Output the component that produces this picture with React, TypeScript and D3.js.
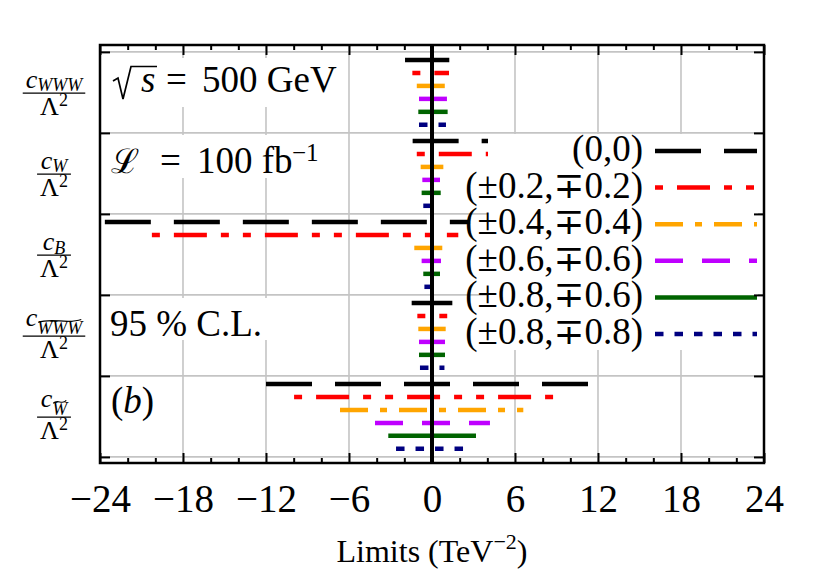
import React, { useEffect, useRef } from 'react'
import * as d3 from 'd3'

const W = 831
const H = 584
const SERIF = "'Liberation Serif', 'DejaVu Serif', serif"

// operators, top to bottom
const categories = ['WWW', 'W', 'B', 'WWW~', 'W~']
const catSubs = ['WWW', 'W', 'B', 'WWW', 'W']
const catTilde = [false, false, false, true, true]

// (c1, c2) scenarios
const seriesNames = ['(0,0)', '(±0.2,∓0.2)', '(±0.4,∓0.4)', '(±0.6,∓0.6)', '(±0.8,∓0.6)', '(±0.8,∓0.8)']
const seriesColors = ['#000000', '#ff0000', '#ffa500', '#bf00ff', '#006400', '#000080']
const seriesDashes = ['46,23', '8,14,33,14,8,14', '28,12,7,12', '28,19', 'none', '8.5,11']

// 95% C.L. lower / upper limits (TeV^-2), one row per scenario, one column per operator
const limLow = [
  [-1.95, -1.4, -23.65, -1.47, -12.0],
  [-1.42, -1.1, -20.25, -1.06, -9.97],
  [-1.1, -0.82, -1.28, -0.99, -6.65],
  [-0.94, -0.7, -0.75, -0.94, -4.12],
  [-0.99, -0.75, -0.63, -0.94, -3.16],
  [-0.94, -0.63, -0.55, -0.87, -2.6],
]
const limHigh = [
  [1.25, 4.3, 2.75, 1.47, 11.6],
  [1.23, 4.3, 1.9, 1.1, 9.02],
  [0.95, 0.82, 0.77, 0.99, 6.6],
  [1.08, 0.58, 0.65, 0.94, 4.19],
  [1.13, 0.63, 0.58, 0.94, 3.18],
  [1.01, 0.5, 0.3, 0.9, 2.27],
]

const xTicks = [-24, -18, -12, -6, 0, 6, 12, 18, 24]
const rowOffsets = [-0.4, -0.24, -0.08, 0.08, 0.24, 0.4]

export default function App() {
  const ref = useRef<SVGSVGElement | null>(null)

  useEffect(() => {
    if (!ref.current) return
    const svg = d3.select(ref.current)
    svg.selectAll('*').remove()

    const x = d3.scaleLinear().domain([-24, 24]).range([100, 764])
    const y = d3.scaleLinear().domain([-0.085, 5.075]).range([45, 463])
    const [left, right] = x.range()
    const [top, bottom] = y.range()

    svg.append('rect').attr('width', W).attr('height', H).attr('fill', '#fff')

    // grid
    const grid = svg.append('g').attr('stroke', '#c4c4c4').attr('stroke-width', 1.6)
    grid.selectAll('line.v')
      .data(xTicks.slice(1, -1))
      .join('line')
      .attr('class', 'v')
      .attr('x1', (d) => x(d)).attr('x2', (d) => x(d))
      .attr('y1', top).attr('y2', bottom)
    grid.selectAll('line.h')
      .data(d3.range(0, categories.length + 1))
      .join('line')
      .attr('class', 'h')
      .attr('x1', left).attr('x2', right)
      .attr('y1', (d) => y(d)).attr('y2', (d) => y(d))

    // limit bars
    const bars = svg.append('g')
    limLow.forEach((lows, s) => {
      bars.selectAll(null)
        .data(categories.map((c, i) => ({ i, lo: lows[i], hi: limHigh[s][i] })))
        .join('line')
        .attr('x1', (d) => x(d.lo))
        .attr('x2', (d) => x(d.hi))
        .attr('y1', (d) => y(d.i + 0.5 + rowOffsets[s]))
        .attr('y2', (d) => y(d.i + 0.5 + rowOffsets[s]))
        .attr('stroke', seriesColors[s])
        .attr('stroke-width', 4.5)
        .attr('stroke-dasharray', seriesDashes[s])
    })

    // zero line
    svg.append('line')
      .attr('x1', x(0)).attr('x2', x(0))
      .attr('y1', top).attr('y2', bottom)
      .attr('stroke', '#000').attr('stroke-width', 4)

    // annotation boxes
    const boxes = [
      [left, 58, 345, 107],
      [left, 135, 340, 178],
      [left, 298, 268, 340],
    ]
    svg.selectAll('rect.ann')
      .data(boxes)
      .join('rect')
      .attr('class', 'ann')
      .attr('x', (d) => d[0] + 1.5).attr('y', (d) => d[1])
      .attr('width', (d) => d[2] - d[0] - 1.5).attr('height', (d) => d[3] - d[1])
      .attr('fill', '#fff')

    const ann = svg.append('g').attr('font-family', SERIF).attr('font-size', 37).attr('fill', '#000')
    // sqrt(s) = 500 GeV
    ann.append('path')
      .attr('d', 'M113,81 L118,78 L123,99 L131,66.5 L157,66.5')
      .attr('fill', 'none').attr('stroke', '#000').attr('stroke-width', 1.7)
      .attr('stroke-linejoin', 'miter')
    ann.append('text').attr('x', 141).attr('y', 92).attr('font-style', 'italic').text('s')
    ann.append('text').attr('x', 166).attr('y', 92).text('=')
    ann.append('text').attr('x', 202).attr('y', 92).text('500 GeV')
    // luminosity
    ann.append('text').attr('x', 111).attr('y', 173).attr('font-family', "'DejaVu Serif', serif").attr('font-size', 34).text('\u2112')
    ann.append('text').attr('x', 160).attr('y', 173).text('=')
    ann.append('text').attr('x', 197).attr('y', 173).text('100 fb')
    ann.append('text').attr('x', 292).attr('y', 161).attr('font-size', 25).text('\u22121')
    // confidence level
    ann.append('text').attr('x', 110).attr('y', 336).text('95 % C.L.')
    // panel tag
    const tag = ann.append('text').attr('x', 111).attr('y', 413)
    tag.append('tspan').text('(')
    tag.append('tspan').attr('font-style', 'italic').text('b')
    tag.append('tspan').text(')')

    // legend
    const legTop = 134
    svg.append('rect')
      .attr('x', 488).attr('y', legTop)
      .attr('width', 758 - 488).attr('height', 350 - legTop)
      .attr('fill', '#fff')
    const leg = svg.append('g')
    const rowY = (i: number) => 151 + i * 36.6
    leg.selectAll('text')
      .data(seriesNames)
      .join('text')
      .attr('x', 643)
      .attr('y', (d, i) => rowY(i) + 10)
      .attr('text-anchor', 'end')
      .attr('font-family', SERIF)
      .attr('font-size', 37)
      .text((d) => d)
    leg.selectAll('line')
      .data(seriesNames)
      .join('line')
      .attr('x1', 655).attr('x2', 757)
      .attr('y1', (d, i) => rowY(i)).attr('y2', (d, i) => rowY(i))
      .attr('stroke', (d, i) => seriesColors[i])
      .attr('stroke-width', 4.5)
      .attr('stroke-dasharray', (d, i) => seriesDashes[i])

    // axes
    const styleAxis = (g: d3.Selection<SVGGElement, unknown, null, undefined>) => {
      g.select('.domain').remove()
      g.selectAll('.tick line').attr('stroke', '#000').attr('stroke-width', 2)
    }
    const fmt = (d: d3.NumberValue) => (+d < 0 ? '\u2212' + Math.abs(+d) : String(d))
    const minor = d3.range(-22, 24, 2).filter((v) => v % 6 !== 0)

    const xb = svg.append('g').attr('transform', `translate(0,${bottom})`)
      .call(d3.axisBottom(x).tickValues(xTicks).tickSize(-10).tickPadding(21).tickFormat(fmt))
    styleAxis(xb)
    xb.selectAll('.tick text').attr('font-family', SERIF).attr('font-size', 39).attr('fill', '#000')
    styleAxis(svg.append('g').attr('transform', `translate(0,${bottom})`)
      .call(d3.axisBottom(x).tickValues(minor).tickSize(-5).tickFormat(() => '')))
    styleAxis(svg.append('g').attr('transform', `translate(0,${top})`)
      .call(d3.axisTop(x).tickValues(xTicks).tickSize(-10).tickFormat(() => '')))
    styleAxis(svg.append('g').attr('transform', `translate(0,${top})`)
      .call(d3.axisTop(x).tickValues(minor).tickSize(-5).tickFormat(() => '')))
    styleAxis(svg.append('g').attr('transform', `translate(${left},0)`)
      .call(d3.axisLeft(y).tickValues(d3.range(0, 6)).tickSize(-10).tickFormat(() => '')))
    styleAxis(svg.append('g').attr('transform', `translate(${right},0)`)
      .call(d3.axisRight(y).tickValues(d3.range(0, 6)).tickSize(-10).tickFormat(() => '')))

    svg.append('rect')
      .attr('x', left).attr('y', top)
      .attr('width', right - left).attr('height', bottom - top)
      .attr('fill', 'none').attr('stroke', '#000').attr('stroke-width', 2.5)

    // x label
    const xl = svg.append('text')
      .attr('x', x(0)).attr('y', 562)
      .attr('text-anchor', 'middle')
      .attr('font-family', SERIF).attr('font-size', 32)
    xl.append('tspan').text('Limits (TeV')
    xl.append('tspan').attr('font-size', 22).attr('dy', -13).text('\u22122')
    xl.append('tspan').attr('dy', 13).text(')')

    // y labels: c_X / Lambda^2
    const cx = 54
    categories.forEach((c, i) => {
      const cy = y(i + 0.5)
      const g = svg.append('g').attr('font-family', SERIF).attr('fill', '#000')
      const tilde = catTilde[i]
      const num = g.append('text').attr('y', tilde ? cy - 9 : cy - 4.5).attr('font-size', 26)
      const cT = num.append('tspan').attr('font-style', 'italic').text('c')
      num.append('tspan').attr('font-style', 'italic').attr('font-size', 18)
        .attr('dy', tilde ? 8 : 3.6).text(catSubs[i])
      const numW = (num.node() as SVGTextElement).getComputedTextLength()
      const cW = (cT.node() as SVGTSpanElement).getComputedTextLength()
      num.attr('x', cx - numW / 2)
      const den = g.append('text').attr('x', cx).attr('y', cy + 23)
        .attr('font-size', 26).attr('text-anchor', 'middle')
      den.append('tspan').text('\u039b')
      den.append('tspan').attr('font-size', 18).attr('dy', -9).text('2')
      const denW = (den.node() as SVGTextElement).getComputedTextLength()
      const bw = Math.max(numW, denW) + 6
      g.append('line')
        .attr('x1', cx - bw / 2).attr('x2', cx + bw / 2)
        .attr('y1', cy + 0.8).attr('y2', cy + 0.8)
        .attr('stroke', '#000').attr('stroke-width', 1.3)
      if (tilde) {
        const x0 = cx - numW / 2 + cW + 1
        const x1 = cx + numW / 2 - 1
        const ty = cy - 15
        const w = x1 - x0
        g.append('path')
          .attr('d', `M${x0},${ty + 2} C${x0 + w * 0.3},${ty - 3} ${x0 + w * 0.7},${ty + 4} ${x1},${ty - 1}`)
          .attr('fill', 'none').attr('stroke', '#000').attr('stroke-width', 1.1)
      }
    })
  }, [])

  return (
    <svg
      ref={ref}
      width={W}
      height={H}
      style={{ position: 'absolute', left: 0, top: 0, display: 'block' }}
      role="img"
      aria-label="Limits on anomalous couplings"
    />
  )
}
